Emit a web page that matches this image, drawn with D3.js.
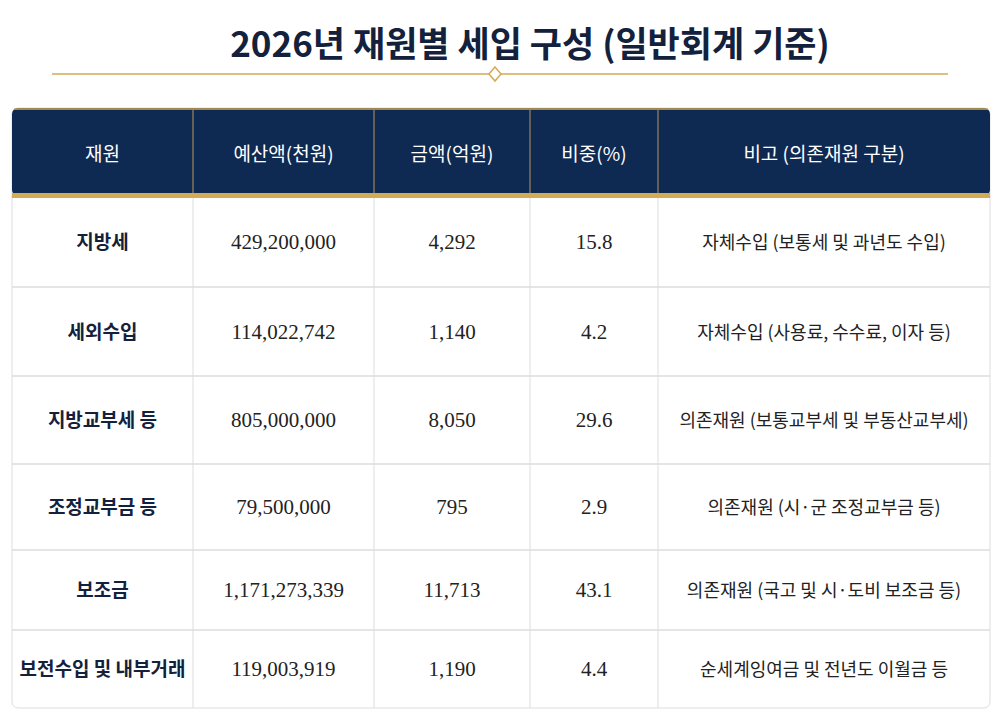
<!DOCTYPE html><html><head><meta charset="utf-8"><script src="https://d3js.org/d3.v7.min.js"></script>
<style>body{margin:0;background:#fff}</style></head><body><svg id="c" width="1000" height="715"></svg>
<script>
const title="2026년 재원별 세입 구성 (일반회계 기준)";
const headers=["재원","예산액(천원)","금액(억원)","비중(%)","비고 (의존재원 구분)"];
const sources=["지방세","세외수입","지방교부세 등","조정교부금 등","보조금","보전수입 및 내부거래"];
const budget=["429,200,000","114,022,742","805,000,000","79,500,000","1,171,273,339","119,003,919"];
const amount=["4,292","1,140","8,050","795","11,713","1,190"];
const share=["15.8","4.2","29.6","2.9","43.1","4.4"];
const notes=["자체수입 (보통세 및 과년도 수입)","자체수입 (사용료, 수수료, 이자 등)","의존재원 (보통교부세 및 부동산교부세)","의존재원 (시·군 조정교부금 등)","의존재원 (국고 및 시·도비 보조금 등)","순세계잉여금 및 전년도 이월금 등"];
const svg=d3.select("#c");
const navy="#0f2a52",gold="#d4aa55",kfont="'Noto Sans CJK KR','Noto Sans',sans-serif",nfont="'Liberation Serif',serif";
svg.append("text").attr("x",530).attr("y",57).attr("text-anchor","middle").attr("font-family",kfont).attr("font-weight",700).attr("font-size",35).attr("fill","#13213d").text(title);
svg.append("line").attr("x1",52).attr("x2",948).attr("y1",74).attr("y2",74).attr("stroke",gold).attr("stroke-width",1.5);
svg.append("path").attr("d","M495,67 L501,74 L495,81 L489,74 Z").attr("fill","#fff").attr("stroke",gold).attr("stroke-width",1.5);
const colEdges=[12,193,374,530,658,990];
const rowEdges=[197,287,376,464,550,630,708];
svg.append("rect").attr("x",12).attr("y",108).attr("width",978).attr("height",600).attr("rx",6).attr("fill","#fff").attr("stroke","#ddd");
svg.append("rect").attr("x",12).attr("y",108).attr("width",978).attr("height",88).attr("rx",6).attr("fill",navy);
svg.append("line").attr("x1",14).attr("x2",988).attr("y1",109).attr("y2",109).attr("stroke",gold).attr("stroke-width",1.5);
svg.append("rect").attr("x",12).attr("y",193).attr("width",978).attr("height",5).attr("fill",gold);
colEdges.slice(1,-1).forEach(c=>{svg.append("line").attr("x1",c).attr("x2",c).attr("y1",110).attr("y2",193).attr("stroke","#b8965a").attr("stroke-width",1);
 svg.append("line").attr("x1",c).attr("x2",c).attr("y1",198).attr("y2",708).attr("stroke","#ddd");});
rowEdges.slice(1,-1).forEach(r=>svg.append("line").attr("x1",12).attr("x2",990).attr("y1",r).attr("y2",r).attr("stroke","#ddd").attr("stroke-width",1.5));
headers.forEach((h,i)=>svg.append("text").attr("x",(colEdges[i]+colEdges[i+1])/2).attr("y",161).attr("text-anchor","middle").attr("font-family",kfont).attr("font-size",19).attr("fill","#fff").text(h));
const cols=[sources,budget,amount,share,notes];
cols.forEach((col,i)=>col.forEach((v,j)=>{
 const t=svg.append("text").attr("x",(colEdges[i]+colEdges[i+1])/2).attr("y",(rowEdges[j]+rowEdges[j+1])/2+7).attr("text-anchor","middle").attr("fill",i==0?"#13213d":"#222").text(v);
 if(i==0)t.attr("font-family",kfont).attr("font-weight",700).attr("font-size",19);
 else if(i==4)t.attr("font-family",kfont).attr("font-size",18);
 else t.attr("font-family",nfont).attr("font-size",21);
}));
</script></body></html>
